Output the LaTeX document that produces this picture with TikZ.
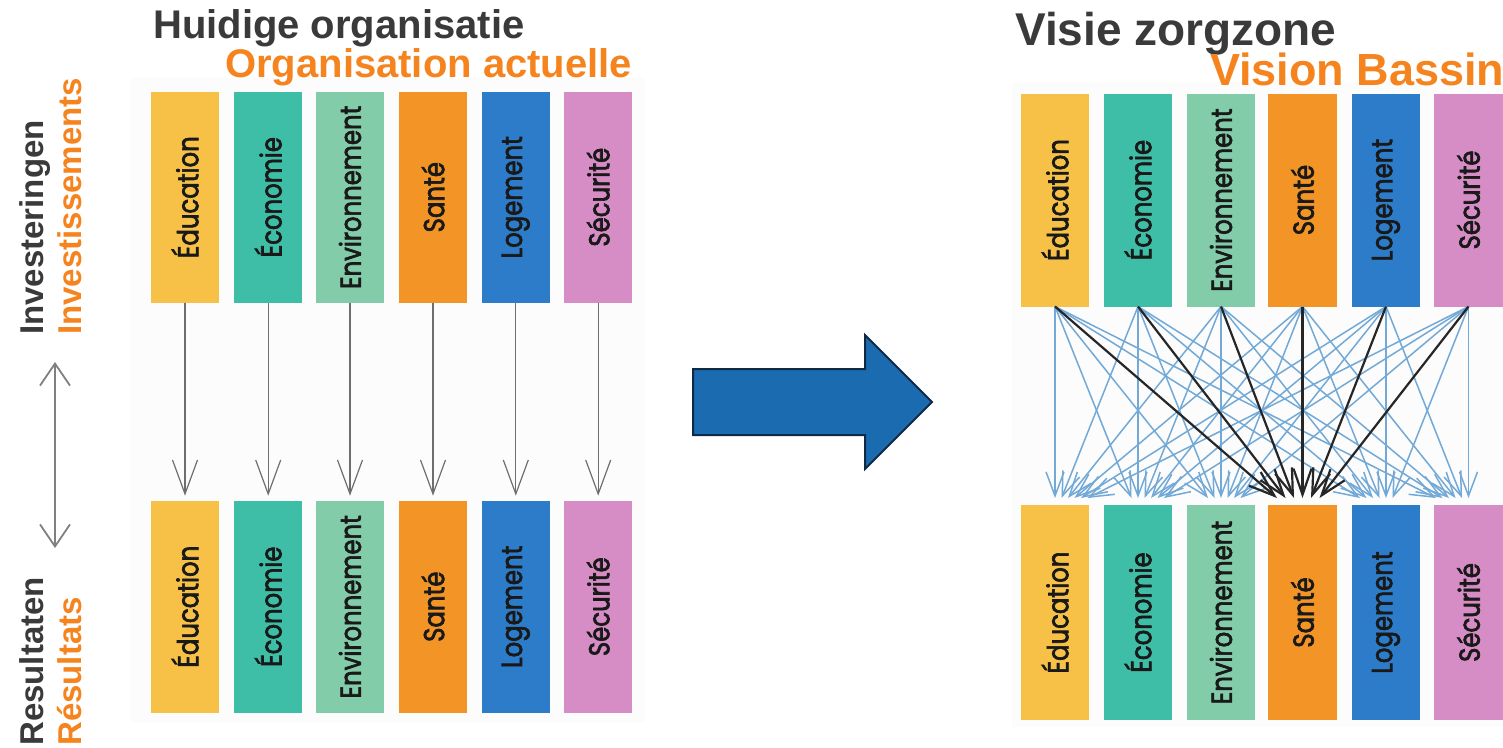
\documentclass[tikz,border=0pt]{standalone}
\usepackage{fontspec}
\setmainfont{Liberation Sans}
\newfontfamily\boxfont{Poppins}[FakeStretch=0.84,FakeBold=2.2]
\usetikzlibrary{arrows.meta,calc}

\definecolor{cEdu}{HTML}{F6C146}
\definecolor{cEco}{HTML}{3EBEA6}
\definecolor{cEnv}{HTML}{82CCA9}
\definecolor{cSan}{HTML}{F29426}
\definecolor{cLog}{HTML}{2C7CC9}
\definecolor{cSec}{HTML}{D68CC4}
\definecolor{titlegray}{HTML}{3A3A3A}
\definecolor{titleorange}{HTML}{F5841F}
\definecolor{flowblue}{HTML}{72A9D6}
\definecolor{flowgray}{HTML}{6E6E6E}
\definecolor{bigblue}{HTML}{1B6BB1}
\definecolor{bignavy}{HTML}{0F2A45}

\begin{document}
\begin{tikzpicture}[x=1pt,y=-1pt,
  panel/.style={fill=black!1},
  sector/.style={minimum width=68.5pt, minimum height=212pt, inner sep=0pt, outer sep=0pt},
  sectorlabel/.style={rotate=90, inner sep=0pt, text=black!90,
    font=\boxfont\fontsize{29}{29}\selectfont},
  titledark/.style={anchor=base west, inner sep=0pt, text=titlegray,
    font=\bfseries\fontsize{40}{40}\selectfont},
  titleorange/.style={titledark, text=titleorange},
  sidedark/.style={rotate=90, anchor=base west, inner sep=0pt, text=titlegray,
    font=\bfseries\fontsize{33}{33}\selectfont},
  sideorange/.style={sidedark, text=titleorange},
  straightflow/.style={draw=flowgray, line width=1.2pt,
    -{Straight Barb[length=34pt,width=25pt]}, shorten >=5pt},
  crossflow/.style={draw=flowblue, line width=1.5pt,
    -{Straight Barb[length=24pt,width=18pt]}},
  healthflow/.style={draw=black!85, line width=2.2pt,
    -{Straight Barb[length=26pt,width=18pt]}},
  spanarrow/.style={draw=black!50, line width=1.8pt,
    {Straight Barb[length=22pt,width=30pt]}-{Straight Barb[length=22pt,width=30pt]}},
  bigarrow/.style={fill=bigblue, draw=bignavy, line width=2pt, line join=miter}
]
\useasboundingbox (0,0) rectangle (1503,747);

% light backgrounds of the two panels
\fill[panel] (130,78) rectangle (645,722);
\fill[panel] (1012,82) rectangle (1503,727);

% titles
\node[titledark] (hTitle) at (153,38) {Huidige organisatie};
\node[titleorange] (oTitle) at (225,77) {Organisation actuelle};
\node[titledark, font=\bfseries\fontsize{46}{46}\selectfont] (vTitle) at (1015,45) {Visie zorgzone};
\node[titleorange, font=\bfseries\fontsize{45}{45}\selectfont] (bTitle) at (1210,85) {Vision Bassin};

% side labels
\node[sidedark] (invNl) at (43,335) {Investeringen};
\node[sideorange] (invFr) at (81,335) {Investissements};
\node[sidedark] (resNl) at (43,746) {Resultaten};
\node[sideorange] (resFr) at (81,746) {Résultats};
\coordinate (spanTop) at (55,362);
\coordinate (spanBot) at (55,548);
\draw[spanarrow] (spanTop) -- (spanBot);

% sector boxes, left panel (top: investments, bottom: results)
\foreach \i/\x/\col/\lab in {1/185/cEdu/Éducation, 2/268.2/cEco/Économie,
    3/350/cEnv/Environnement, 4/433/cSan/Santé, 5/515.8/cLog/Logement,
    6/598.2/cSec/Sécurité}{
  \node[sector, fill=\col, minimum height=211pt] (lt\i) at (\x,197.2) {};
  \node[sectorlabel] (ltl\i) at (lt\i.center) {\lab};
  \node[sector, fill=\col] (lb\i) at (\x,606.7) {};
  \node[sectorlabel] (lbl\i) at (lb\i.center) {\lab};
}

% sector boxes, right panel
\foreach \i/\x/\col/\lab in {1/1055/cEdu/Éducation, 2/1138/cEco/Économie,
    3/1221/cEnv/Environnement, 4/1302.5/cSan/Santé, 5/1386/cLog/Logement,
    6/1468.5/cSec/Sécurité}{
  \node[sector, fill=\col, minimum height=213pt] (rt\i) at (\x,200) {};
  \node[sectorlabel] (rtl\i) at (rt\i.center) {\lab};
  \node[sector, fill=\col, minimum height=215pt] (rb\i) at (\x,612.5) {};
  \node[sectorlabel] (rbl\i) at (rb\i.center) {\lab};
}

% left panel: each sector feeds only itself
\foreach \i in {1,...,6}{
  \draw[straightflow] (lt\i.south) -- (lb\i.north);
}

% transition arrow
\draw[bigarrow] (693,369) -- (865,369) -- (865,335) -- (932,402)
  -- (865,469) -- (865,435) -- (693,435) -- cycle;

% right panel: every sector feeds every other sector
\foreach \i in {1,...,6}{
  \foreach \j in {1,2,3,5,6}{
    \draw[crossflow] (rt\i.south) -- ($(rb\j.north)+({(\i-\j)*6.5},-7)$);
  }
}
% all sectors feed health
\foreach \i in {1,...,6}{
  \draw[healthflow] (rt\i.south) -- ($(rb4.north)+({(\i-4)*8.5},-7)$);
}
\end{tikzpicture}
\end{document}
